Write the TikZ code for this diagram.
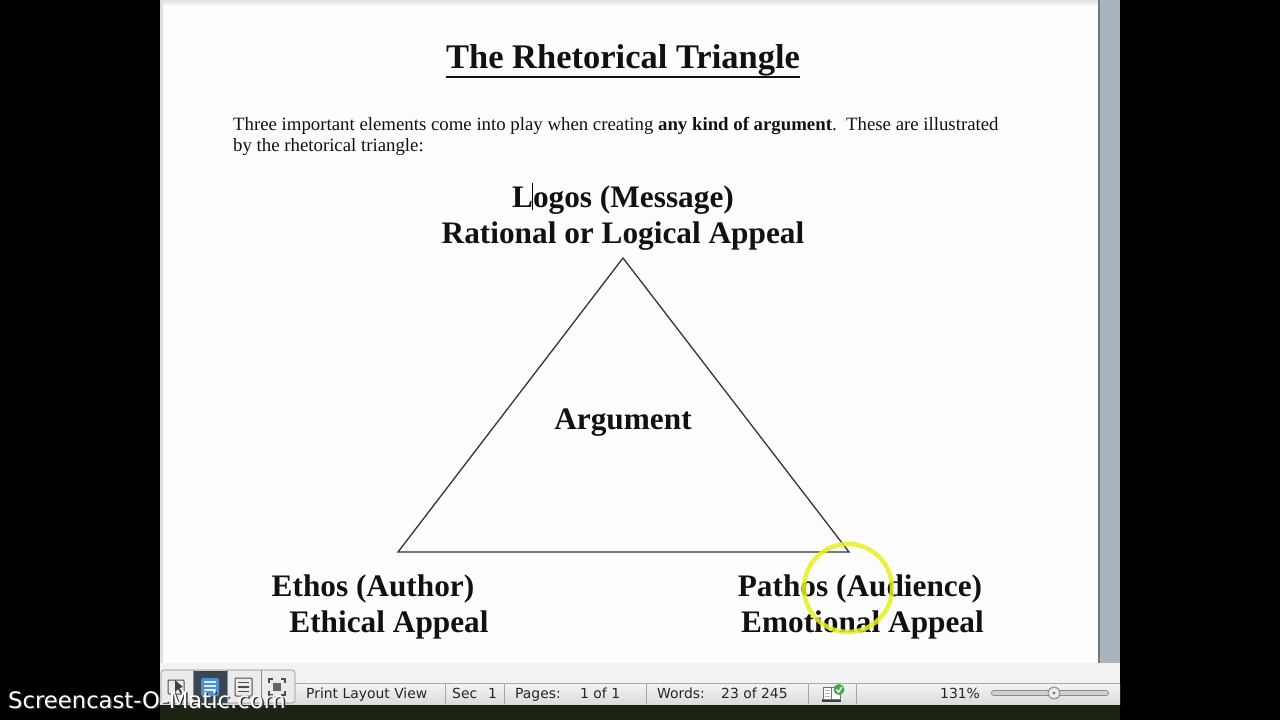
\documentclass[tikz,border=0pt]{standalone}
\usepackage{fontspec}
\setmainfont{Liberation Serif}
\newfontfamily\uisans{DejaVu Sans}
\newfontfamily\wmfont{DejaVu Sans}
\usetikzlibrary{calc}
\definecolor{pagewhite}{HTML}{FDFDFD}
\definecolor{inkc}{HTML}{111111}
\definecolor{linec}{HTML}{333333}
\definecolor{scrollc}{HTML}{A9B3BB}
\definecolor{scrolledge}{HTML}{707880}
\definecolor{barlight}{HTML}{F3F3F3}
\definecolor{barline}{HTML}{A8A8A8}
\definecolor{grassc}{HTML}{1B2313}
\definecolor{hiyellow}{HTML}{E8F020}
\definecolor{btnsel}{HTML}{3B4651}
\definecolor{btnblue}{HTML}{4A90D2}
\definecolor{checkc}{HTML}{3FAE4A}
\begin{document}
\begin{tikzpicture}[x=1pt,y=-1pt,
  txt/.style={inner sep=0pt,text=inkc,font=\fontsize{31.3}{36}\selectfont\bfseries},
  bodytxt/.style={inner sep=0pt,anchor=base west,text=inkc,font=\fontsize{18.8}{21}\selectfont},
  uitxt/.style={inner sep=0pt,anchor=base west,text=black!85,font=\uisans\fontsize{13.9}{16}\selectfont},
  wmtxt/.style={inner sep=0pt,anchor=base west,font=\wmfont\fontsize{22.7}{26}\selectfont},
  sep/.style={draw=barline,line width=0.8pt},
  btn/.style={draw=black!45,line width=0.6pt}]
\useasboundingbox (0,0) rectangle (1280,720);
% backgrounds
\fill[black] (0,0) rectangle (1280,720);
\fill[grassc] (160,704) rectangle (1120,720);
\fill[pagewhite] (160,0) rectangle (1098,663);
\fill[black!12] (160,0) rectangle (163,663);
\shade[top color=black!12,bottom color=pagewhite] (163,0) rectangle (1098,6);
% scrollbar
\fill[scrollc] (1098,0) rectangle (1120,663);
\draw[scrolledge,line width=1.2pt] (1099,0) -- (1099,663);
% status bar
\fill[barlight] (160,663) rectangle (1120,683);
\shade[top color=black!4,bottom color=black!14] (160,683) rectangle (1120,704);
\draw[barline,line width=0.8pt] (295,683) -- (1120,683);
\foreach \sx in {445,504,646,808,856} \draw[sep] (\sx,683) -- (\sx,704);
% view buttons
\draw[btn,rounded corners=3pt,fill=black!8] (161,670) rectangle (295,703);
\fill[btnsel] (193,670.5) rectangle (227,702.5);
\foreach \sx in {193,227,261} \draw[btn] (\sx,670) -- (\sx,703);
\draw[black!70,line width=1pt,rounded corners=1pt] (168,680) rectangle (184,694);
\fill[black!75] (175,680) -- (175,692) -- (178,689) -- (181,694) -- (182.5,693) -- (179.5,688) -- (183,687) -- cycle;
\fill[btnblue,rounded corners=2pt] (201,678) rectangle (219,696);
\foreach \ly in {682,686,690} \draw[white!80!btnblue,line width=1.4pt] (204,\ly) -- (216,\ly);
\draw[black!70,line width=1pt,rounded corners=1pt] (235,678) rectangle (252,696);
\foreach \ly in {682.5,687,691.5} \draw[black!70,line width=1.4pt] (238,\ly) -- (249,\ly);
\draw[black!70,line width=1.4pt] (269,683) -- (269,679) -- (273,679) (281,679) -- (285,679) -- (285,683)
  (285,691) -- (285,695) -- (281,695) (273,695) -- (269,695) -- (269,691);
\fill[black!60] (273,683) rectangle (281,691);
% status texts
\node[uitxt] (plv) at (306,698) {Print Layout View};
\node[uitxt] (sec) at (452,698) {Sec};
\node[uitxt] (secnum) at (488,698) {1};
\node[uitxt] (pages) at (515,698) {Pages:};
\node[uitxt] (pagesnum) at (580,698) {1 of 1};
\node[uitxt] (words) at (657,698) {Words:};
\node[uitxt] (wordsnum) at (721,698) {23 of 245};
\node[uitxt] (zoomtxt) at (940,698) {131\%};
% book icon
\fill[black!75] (822,699) rectangle (841,701.5);
\draw[black!55,fill=white,line width=0.8pt] (823,687) rectangle (831.5,699.5);
\draw[black!55,fill=white,line width=0.8pt] (831.5,687) rectangle (840,699.5);
\foreach \ly in {690,693,696} \draw[black!30,line width=0.6pt] (825,\ly) -- (830,\ly);
\fill[checkc] (839,689.5) circle (5.5);
\draw[white,line width=1.4pt] (836.3,689.5) -- (838.5,692) -- (842,687);
% zoom slider
\draw[black!45,line width=6pt,line cap=round] (994,693) -- (1106,693);
\draw[black!18,line width=4pt,line cap=round] (994,693) -- (1106,693);
\fill[black!40] (1054,693) circle (6.5);
\fill[black!8] (1054,693) circle (5.2);
\fill[black!55] (1054,693) circle (1.6);
% title
\node[txt,font=\fontsize{34.5}{40}\selectfont\bfseries,anchor=base] (title) at (623,68.5) {The Rhetorical Triangle};
\draw[inkc,line width=2pt] ($(title.base west)+(0,8)$) -- ($(title.base east)+(0,8)$);
% body
\node[bodytxt] (intro1) at (233,130.5) {Three important elements come into play when creating \textbf{any kind of argument}.\ \ These are illustrated};
\node[bodytxt] (intro2) at (233,151.5) {by the rhetorical triangle:};
% triangle
\coordinate (apex) at (623,258);
\coordinate (bl) at (398,552);
\coordinate (br) at (849,552);
\draw[linec,line width=1.3pt,line join=miter] (apex) -- (br) -- (bl) -- cycle;
% labels
\node[txt,anchor=base] (logos) at (623,207) {Logos (Message)};
\node[txt,anchor=base] (rational) at (623,243) {Rational or Logical Appeal};
\node[txt,anchor=base] (argument) at (623,429) {Argument};
\node[txt,anchor=base] (ethos) at (373,596) {Ethos (Author)};
\node[txt,anchor=base] (ethical) at (389,632) {Ethical Appeal};
\node[txt,anchor=base] (pathos) at (860,596) {Pathos (Audience)};
\node[txt,anchor=base] (emotional) at (862.5,632) {Emotional Appeal};
% text caret
\draw[black,line width=0.9pt] (532,183) -- (532,210);
% cursor highlight
\draw[hiyellow,opacity=0.85,line width=4.5pt] (848,588) circle (44);
% watermark (with dark shadow)
\node[wmtxt,text=black!80] (wmshadow) at (9.5,709.5) {Screencast-O-Matic.com};
\node[wmtxt,text=white] (wm) at (8,708) {Screencast-O-Matic.com};
\end{tikzpicture}
\end{document}
